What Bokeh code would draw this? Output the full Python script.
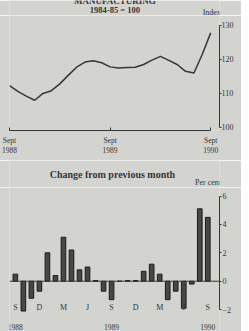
from bokeh.plotting import figure
from bokeh.layouts import column
from bokeh.models import Range1d, FixedTicker, Span
from bokeh.embed import file_html
from bokeh.resources import INLINE
from bokeh.core.properties import value

# ---------------- data ----------------
index_months = list(range(25))  # Sept 1988 .. Sept 1990
index_values = [112.3, 110.6, 109.2, 108.0, 110.0, 110.8, 112.8, 115.3, 117.7,
                119.2, 119.6, 119.0, 117.8, 117.5, 117.6, 117.7, 118.5, 119.8,
                120.9, 119.7, 118.5, 116.5, 116.0, 121.5, 127.8]
index_tick_pos = [0, 12, 24]
index_tick_labels = ["Sept\n1988", "Sept\n1989", "Sept\n1990"]
index_yticks = [100, 110, 120, 130]

change_months = list(range(25))
change_values = [0.5, -2.1, -1.2, -0.7, 2.0, 0.4, 3.1, 2.2, 0.8, 1.0, 0.05, -0.7,
                 -1.3, 0.0, 0.05, 0.05, 0.7, 1.2, 0.5, -1.3, -0.7, -1.9, -0.2,
                 5.1, 4.5]
change_yticks = [-2, 0, 2, 4, 6]
letter_pos = [0, 3, 6, 9, 12, 15, 18, 21, 24]
letter_labels = ["S", "D", "M", "J", "S", "D", "M", "J", "S"]
year_pos = [0, 12, 24]
year_labels = ["1988", "1989", "1990"]

# ---------------- style ----------------
BG = "#d3d3cf"
INK = "#363636"
SERIF = "Liberation Serif"
W = 249


def style(p):
    p.background_fill_color = BG
    p.border_fill_color = BG
    p.outline_line_color = None
    p.xgrid.visible = False
    p.ygrid.visible = False


def header(height):
    """A strip whose frame is the whole canvas, in pixel-like units."""
    h = figure(width=W, height=height, x_range=Range1d(0, W),
               y_range=Range1d(0, height), x_axis_location=None,
               y_axis_location=None, title=None, output_backend="svg",
               toolbar_location=None, min_border=0)
    style(h)
    return h


def put(p, x, y, text, size, align="left", bold=False):
    p.text(x=[x], y=[y], text=[text], text_align=align, text_baseline="middle",
           text_font=value(SERIF), text_font_size=size,
           text_font_style="bold" if bold else "normal", text_color=INK)


# ---------------- header of the index chart ----------------
h1 = header(15)
put(h1, 125, 15, "MANUFACTURING", "9px", "center", True)
put(h1, 125, 5.5, "1984-85 = 100", "8.5px", "center", True)
put(h1, 229, 3.5, "Index", "8px")

# ---------------- top: index ----------------
p1 = figure(width=W, height=145, x_range=Range1d(0, 25.05),
            y_range=Range1d(99.1, 132.9), y_axis_location="right", title=None,
            output_backend="svg", toolbar_location=None,
            min_border_left=12, min_border_right=22,
            min_border_top=0, min_border_bottom=30)
style(p1)
p1.line(index_months, index_values, line_color=INK, line_width=1.5)

xa = p1.xaxis[0]
xa.ticker = FixedTicker(ticks=index_tick_pos)
xa.major_label_overrides = {t: l for t, l in zip(index_tick_pos, index_tick_labels)}
xa.bounds = (0, 24)
xa.axis_line_color = INK
xa.major_tick_line_color = INK
xa.major_tick_in = 3
xa.major_tick_out = 0
xa.minor_tick_line_color = None
xa.major_label_standoff = 5
xa.major_label_text_font = SERIF
xa.major_label_text_font_size = "7.5px"
xa.major_label_text_color = INK

ya = p1.yaxis[0]
ya.ticker = FixedTicker(ticks=index_yticks)
ya.bounds = (100, 130)
ya.axis_line_color = INK
ya.major_tick_line_color = INK
ya.major_tick_in = 0
ya.major_tick_out = 2
ya.minor_tick_line_color = None
ya.major_label_standoff = 0
ya.major_label_text_font = SERIF
ya.major_label_text_font_size = "8px"
ya.major_label_text_color = INK

# ---------------- header of the change chart ----------------
h2 = header(27)
put(h2, 122, 13, "Change from previous month", "10px", "center", True)
put(h2, 220, 5, "Per cent", "8px")

# ---------------- bottom: monthly change ----------------
p2 = figure(width=W, height=144, x_range=Range1d(-0.73, 25.46),
            y_range=Range1d(-3.54, 6.6), x_axis_location=None,
            y_axis_location="right", title=None, output_backend="svg",
            toolbar_location=None, min_border_left=17, min_border_right=17,
            min_border_top=0, min_border_bottom=0)
style(p2)
p2.add_layout(Span(location=0, dimension="width", line_color=INK, line_width=1))
p2.vbar(x=change_months, top=change_values, bottom=0, width=0.58,
        fill_color="#474747", line_color="#1c1c1c", line_width=1)

yb = p2.yaxis[0]
yb.ticker = FixedTicker(ticks=change_yticks)
yb.bounds = (-2, 6)
yb.axis_line_color = INK
yb.major_tick_line_color = INK
yb.major_tick_in = 0
yb.major_tick_out = 2
yb.minor_tick_line_color = None
yb.major_label_standoff = 1
yb.major_label_text_font = SERIF
yb.major_label_text_font_size = "8px"
yb.major_label_text_color = INK

p2.text(x=letter_pos, y=[-1.85] * len(letter_pos), text=letter_labels,
        text_align="center", text_baseline="middle", text_font=value(SERIF),
        text_font_size="8px", text_color=INK)
p2.text(x=year_pos, y=[-3.2] * len(year_pos), text=year_labels,
        text_align="center", text_baseline="middle", text_font=value(SERIF),
        text_font_size="7.5px", text_color=INK)

layout = column(h1, p1, h2, p2, spacing=0)
layout.styles = {"margin-left": "-8px"}

open("out.html", "w").write(file_html(layout, INLINE))
